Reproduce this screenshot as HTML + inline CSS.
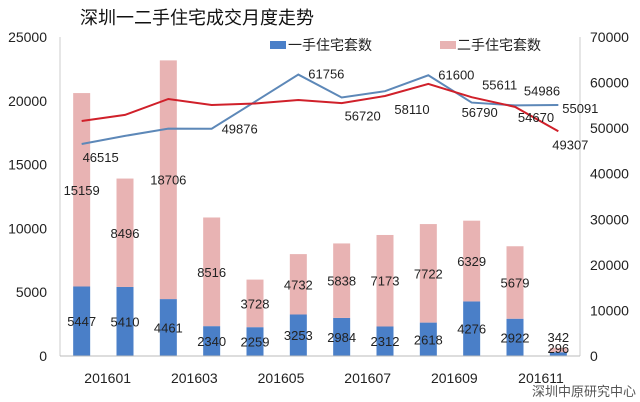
<!DOCTYPE html>
<html><head><meta charset="utf-8"><style>
html,body{margin:0;padding:0;background:#fff;}
svg{display:block;font-family:"Liberation Sans","Noto Sans CJK SC",sans-serif;}
</style></head><body>
<svg id="chart" width="640" height="402" viewBox="0 0 640 402">
<text x="80" y="24" font-size="18" fill="#111">深圳一二手住宅成交月度走势</text>
<g>
<rect x="270" y="41" width="16" height="8" fill="#4a7fc8"></rect>
<text x="288" y="50" font-size="14" fill="#222">一手住宅套数</text>
<rect x="440" y="41" width="16" height="8" fill="#e8b3b3"></rect>
<text x="457" y="50" font-size="14" fill="#222">二手住宅套数</text>
</g>
<line x1="60" y1="37" x2="60" y2="356" stroke="#ccc"></line>
<line x1="580" y1="37" x2="580" y2="356" stroke="#ccc"></line>
<g id="bars"></g><g id="lines"></g><g id="labels"></g><g id="axes"></g>
<line x1="60" y1="356" x2="580" y2="356" stroke="#bbb"></line>
<text x="636" y="396" font-size="13" fill="#555" text-anchor="end">深圳中原研究中心</text>
</svg>
<script>
const firstHand = [5447,5410,4461,2340,2259,3253,2984,2312,2618,4276,2922,296];
const secondHand = [15159,8496,18706,8516,3728,4732,5838,7173,7722,6329,5679,342];
const blueLine = [46515,48300,49900,49876,55800,61756,56720,58110,61600,55611,54986,55091];
const redLine = [51570,52900,56400,55080,55400,56170,55500,57050,59700,56790,54670,49307];
const blueLabels = [[0,'46515'],[3,'49876'],[5,'61756'],[6,'56720'],[7,'58110'],[8,'61600'],[9,'55611'],[10,'54986'],[11,'55091']];
const redLabels = [[9,'56790'],[10,'54670'],[11,'49307']];
const leftTicks = [0,5000,10000,15000,20000,25000];
const rightTicks = [0,10000,20000,30000,40000,50000,60000,70000];
const xTickLabels = ['201601','201603','201605','201607','201609','201611'];

const NS='http://www.w3.org/2000/svg';
const x0=60,x1=580,yb=356,yt=37;
const n=firstHand.length, step=(x1-x0)/n;
const xc=i=>x0+step*(i+0.5);
const yL=v=>yb-(v/25000)*(yb-yt);
const yR=v=>yb-(v/70000)*(yb-yt);
function mk(tag,attrs,parent){const e=document.createElementNS(NS,tag);for(const k in attrs)e.setAttribute(k,attrs[k]);parent.appendChild(e);return e;}
const gB=document.getElementById('bars'),gLn=document.getElementById('lines'),gLb=document.getElementById('labels'),gA=document.getElementById('axes');
const bw=17;
for(let i=0;i<n;i++){
  const yf=yL(firstHand[i]), ys=yL(firstHand[i]+secondHand[i]);
  const b=mk('rect',{x:xc(i)-bw/2,y:yf,width:bw,height:yb-yf,fill:'#4a7fc8'},gB);
  
  
  const p=mk('rect',{x:xc(i)-bw/2,y:ys,width:bw,height:yf-ys,fill:'#e8b3b3'},gB);
  
  
  const last=i===n-1;
  const t1=mk('text',{x:xc(i),y:last?353:(yf+yb)/2+5,'font-size':13,fill:'#222','text-anchor':'middle'},gLb);
  t1.textContent=firstHand[i];
  
  
  const t2=mk('text',{x:xc(i),y:last?342:(ys+yf)/2+5,'font-size':13,fill:'#222','text-anchor':'middle'},gLb);
  t2.textContent=secondHand[i];
  
  
}
function line(vals,color,w,name){
  const pl=mk('polyline',{points:vals.map((v,i)=>xc(i)+','+yR(v)).join(' '),fill:'none',stroke:color,'stroke-width':w},gLn);
  
  
}
line(blueLine,'#5d88b8',2,'line-first-hand-price');
line(redLine,'#d0202a',2,'line-second-hand-price');
const blueOff={0:[19,18],3:[28,5],5:[28,4],6:[21,23],7:[27,23],8:[28,4],9:[28,-13],10:[27,-10],11:[22,8]};
const redOff={9:[8,20],10:[21,15],11:[12,18]};
blueLabels.forEach(([i,s])=>{const o=blueOff[i];const t=mk('text',{x:xc(i)+o[0],y:yR(blueLine[i])+o[1],'font-size':13,fill:'#222','text-anchor':'middle'},gLb);t.textContent=s;
  
  });
redLabels.forEach(([i,s])=>{const o=redOff[i];const t=mk('text',{x:xc(i)+o[0],y:yR(redLine[i])+o[1],'font-size':13,fill:'#222','text-anchor':'middle'},gLb);t.textContent=s;
  
  });
leftTicks.forEach(v=>{const t=mk('text',{x:47,y:yL(v)+5,'font-size':14,fill:'#222','text-anchor':'end'},gA);t.textContent=v;
  
  });
rightTicks.forEach(v=>{const t=mk('text',{x:590,y:yR(v)+5,'font-size':14,fill:'#222'},gA);t.textContent=v;
  
  });
xTickLabels.forEach((s,k)=>{const t=mk('text',{x:xc(2*k)+step*0.6,y:383,'font-size':14,fill:'#222','text-anchor':'middle'},gA);t.textContent=s;
  
  });
</script>
</body></html>
